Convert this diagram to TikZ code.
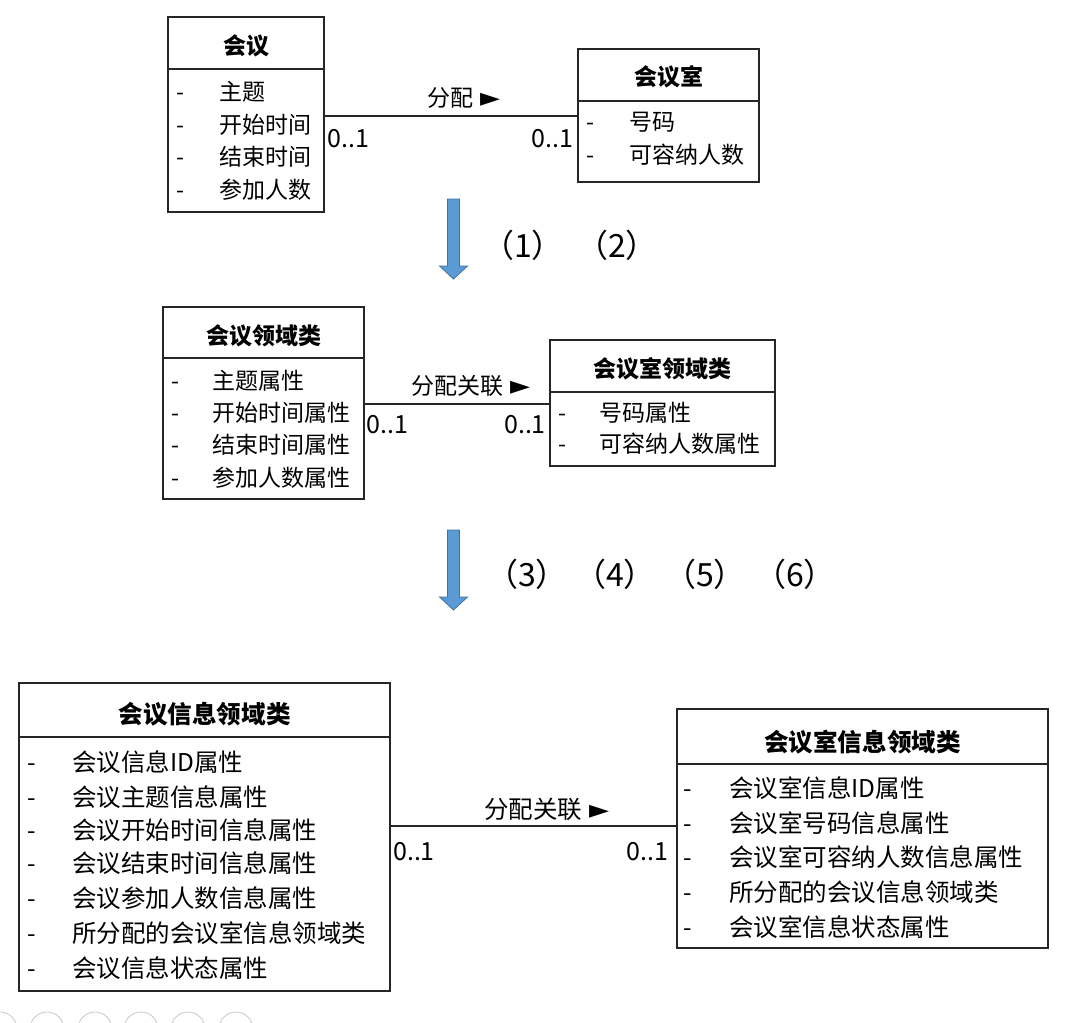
\documentclass[tikz,border=0pt]{standalone}
\usepackage{fontspec}
\setmainfont{Noto Sans CJK SC}
\newfontfamily\dejavu{DejaVu Sans}
\newcommand\myfs[1]{\fontsize{#1}{#1}\selectfont}
\newcommand\tri{{\dejavu\myfs{26}►}}
\begin{document}
\begin{tikzpicture}[x=1pt,y=-1pt,
  umlbox/.style={draw=black!85, line width=1.2pt, inner sep=0pt, outer sep=0pt, rectangle},
  divider/.style={draw=black!85, line width=1.2pt},
  conn/.style={draw=black!85, line width=1.2pt},
  fixh/.style={text height=19.8pt, text depth=2.8pt},
  fixhb/.style={text height=21.1pt, text depth=2.9pt},
  ttl/.style={inner sep=0pt, font=\myfs{23}\bfseries},
  ttlb/.style={inner sep=0pt, font=\myfs{24.6}\bfseries},
  attr/.style={inner sep=0pt, anchor=west, font=\myfs{23}, fixh},
  attrb/.style={inner sep=0pt, anchor=west, font=\myfs{24.5}, fixhb},
  dsh/.style={inner sep=0pt, font=\myfs{23}, fixh},
  dshb/.style={inner sep=0pt, font=\myfs{24.5}, fixhb},
  mult/.style={inner sep=0pt, font=\myfs{25}},
  alabel/.style={inner sep=0pt, anchor=west, font=\myfs{23}, fixh},
  alabelb/.style={inner sep=0pt, anchor=west, font=\myfs{24.5}, fixhb},
  stepno/.style={inner sep=0pt, font=\myfs{32}},
  blockarrow/.style={fill={rgb,255:red,91;green,155;blue,213}, draw={rgb,255:red,65;green,113;blue,156}, line width=0.8pt, line join=miter}
]
\useasboundingbox (0,0) rectangle (1077,1023);

% ---------- Top: 会议 / 会议室 ----------
\node[umlbox, minimum width=156pt, minimum height=195pt] (m1) at (246,114.5) {};
\node[ttl] (m1t) at (246,46) {会议};
\draw[divider] (m1.west |- 0,69) -- (m1.east |- 0,69);
\foreach \yy/\tx [count=\i] in {92/主题,125/开始时间,157/结束时间,190/参加人数}{
  \node[dsh] (m1d\i) at (180,\yy) {-};
  \node[attr] (m1a\i) at (219,\yy) {\tx};
}

\node[umlbox, minimum width=181pt, minimum height=133pt] (m2) at (668.5,115.5) {};
\node[ttl] (m2t) at (668.5,77) {会议室};
\draw[divider] (m2.west |- 0,101) -- (m2.east |- 0,101);
\foreach \yy/\tx [count=\i] in {122/号码,155/可容纳人数}{
  \node[dsh] (m2d\i) at (590,\yy) {-};
  \node[attr] (m2a\i) at (629,\yy) {\tx};
}

\coordinate (y1) at (0,116);
\draw[conn] (m1.east |- y1) -- (m2.west |- y1);
\node[alabel] (l1) at (427,98) {分配\hspace{7pt}\tri};
\node[mult] (l1a) at (348.5,139) {0..1};
\node[mult] (l1b) at (552.5,139) {0..1};

% ---------- arrow 1 ----------
\draw[blockarrow] (447.5,199) -- (459.5,199) -- (459.5,266) -- (467.5,266) -- (453.5,279) -- (439.5,266) -- (447.5,266) -- cycle;
\node[stepno] (s1) at (523,245) {（1）};
\node[stepno] (s2) at (617,245) {（2）};

% ---------- Middle: 会议领域类 / 会议室领域类 ----------
\node[umlbox, minimum width=201pt, minimum height=192pt] (d1) at (263.5,403) {};
\node[ttl] (d1t) at (263.5,336) {会议领域类};
\draw[divider] (d1.west |- 0,358) -- (d1.east |- 0,358);
\foreach \yy/\tx [count=\i] in {381/主题属性,413/开始时间属性,445/结束时间属性,478/参加人数属性}{
  \node[dsh] (d1d\i) at (175,\yy) {-};
  \node[attr] (d1a\i) at (212,\yy) {\tx};
}

\node[umlbox, minimum width=225pt, minimum height=126pt] (d2) at (662.5,403) {};
\node[ttl] (d2t) at (662.5,369) {会议室领域类};
\draw[divider] (d2.west |- 0,392) -- (d2.east |- 0,392);
\foreach \yy/\tx [count=\i] in {413/号码属性,444/可容纳人数属性}{
  \node[dsh] (d2d\i) at (562,\yy) {-};
  \node[attr] (d2a\i) at (599,\yy) {\tx};
}

\coordinate (y2) at (0,404);
\draw[conn] (d1.east |- y2) -- (d2.west |- y2);
\node[alabel] (l2) at (411,386) {分配关联\hspace{7pt}\tri};
\node[mult] (l2a) at (387.5,425) {0..1};
\node[mult] (l2b) at (525,425) {0..1};

% ---------- arrow 2 ----------
\draw[blockarrow] (447.5,530) -- (459.5,530) -- (459.5,597) -- (467.5,597) -- (453.5,610) -- (439.5,597) -- (447.5,597) -- cycle;
\node[stepno] (s3) at (527,574) {（3）};
\node[stepno] (s4) at (615,574) {（4）};
\node[stepno] (s5) at (705,574) {（5）};
\node[stepno] (s6) at (795,574) {（6）};

% ---------- Bottom: 会议信息领域类 / 会议室信息领域类 ----------
\node[umlbox, minimum width=371pt, minimum height=308pt] (i1) at (204.5,837) {};
\node[ttlb] (i1t) at (204.5,714) {会议信息领域类};
\draw[divider] (i1.west |- 0,737) -- (i1.east |- 0,737);
\foreach \yy/\tx [count=\i] in {762/会议信息ID属性,797/会议主题信息属性,830/会议开始时间信息属性,863/会议结束时间信息属性,898/会议参加人数信息属性,933/所分配的会议室信息领域类,968/会议信息状态属性}{
  \node[dshb] (i1d\i) at (32,\yy) {-};
  \node[attrb] (i1a\i) at (72,\yy) {\tx};
}

\node[umlbox, minimum width=371pt, minimum height=239pt] (i2) at (862.5,828.5) {};
\node[ttlb] (i2t) at (862.5,742) {会议室信息领域类};
\draw[divider] (i2.west |- 0,764) -- (i2.east |- 0,764);
\foreach \yy/\tx [count=\i] in {788/会议室信息ID属性,823/会议室号码信息属性,857/会议室可容纳人数信息属性,892/所分配的会议信息领域类,927/会议室信息状态属性}{
  \node[dshb] (i2d\i) at (688,\yy) {-};
  \node[attrb] (i2a\i) at (729,\yy) {\tx};
}

\coordinate (y3) at (0,826);
\draw[conn] (i1.east |- y3) -- (i2.west |- y3);
\node[alabelb] (l3) at (484,809) {分配关联\hspace{7pt}\tri};
\node[mult] (l3a) at (414,852) {0..1};
\node[mult] (l3b) at (647.5,852) {0..1};

% ---------- faint toolbar circles at the bottom edge ----------
\begin{scope}
\clip (0,0) rectangle (1077,1023);
\foreach \cx in {0,47,95,141,188,236}{
  \draw[black!22, line width=0.8pt] (\cx,1029) circle[radius=17];
}
\end{scope}
\end{tikzpicture}
\end{document}
